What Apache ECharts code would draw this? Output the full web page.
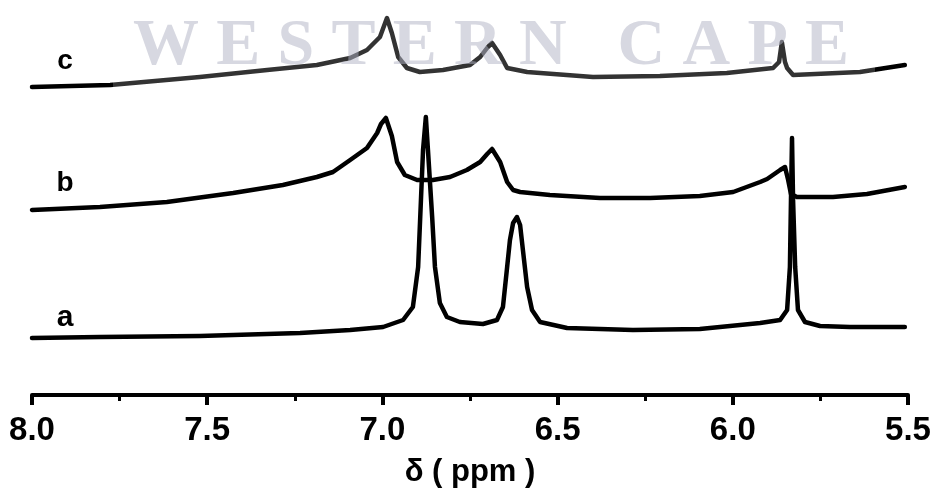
<!DOCTYPE html>
<html>
<head>
<meta charset="utf-8">
<title>1H NMR spectra</title>
<script src="https://cdn.jsdelivr.net/npm/echarts@6/dist/echarts.min.js"></script>
<style>
  html, body { margin: 0; padding: 0; background: #fff; }
  #chart { width: 938px; height: 494px; }
</style>
</head>
<body>
<div id="chart"></div>
<script>
// Stacked 1H NMR traces, chemical shift (ppm) vs. plotted height (a.u.)
const spectrumA = [
  [8.000, 57], [7.806, 58], [7.521, 59], [7.235, 62], [7.092, 65], [6.998, 68],
  [6.941, 75], [6.913, 88], [6.898, 128], [6.890, 195], [6.884, 245], [6.876, 278],
  [6.870, 245], [6.858, 178], [6.850, 128], [6.836, 92], [6.816, 78], [6.779, 73],
  [6.713, 71], [6.673, 75], [6.656, 88], [6.644, 128], [6.636, 155], [6.627, 172],
  [6.616, 178], [6.607, 170], [6.599, 145], [6.587, 108], [6.573, 85], [6.550, 73],
  [6.473, 67], [6.285, 65], [6.094, 66], [5.922, 72], [5.865, 75], [5.845, 85],
  [5.837, 128], [5.834, 195], [5.831, 257], [5.828, 195], [5.822, 128], [5.814, 85],
  [5.794, 73], [5.751, 69], [5.666, 68], [5.509, 68]
];
const spectrumB = [
  [8.000, 185], [7.806, 188], [7.615, 193], [7.426, 202], [7.284, 210], [7.187, 218],
  [7.141, 223], [7.092, 235], [7.044, 247], [7.015, 262], [7.004, 271], [6.990, 277],
  [6.973, 259], [6.958, 233], [6.936, 220], [6.901, 215], [6.856, 215], [6.807, 218],
  [6.759, 225], [6.721, 233], [6.701, 241], [6.687, 246], [6.664, 233], [6.644, 213],
  [6.627, 205], [6.607, 203], [6.522, 200], [6.379, 197], [6.236, 197], [6.094, 199],
  [5.999, 203], [5.922, 213], [5.902, 216], [5.865, 225], [5.851, 228], [5.842, 215],
  [5.834, 201], [5.817, 198], [5.714, 198], [5.617, 201], [5.509, 208]
];
const spectrumC = [
  [8.000, 308], [7.777, 310], [7.521, 318], [7.329, 325], [7.187, 330], [7.092, 337],
  [7.044, 345], [7.007, 358], [6.987, 377], [6.973, 362], [6.955, 338], [6.930, 327],
  [6.893, 323], [6.827, 325], [6.750, 330], [6.721, 338], [6.699, 348], [6.687, 352],
  [6.664, 340], [6.644, 327], [6.587, 323], [6.399, 318], [6.208, 319], [6.017, 322],
  [5.885, 327], [5.868, 333], [5.860, 353], [5.851, 333], [5.845, 327], [5.828, 320],
  [5.637, 323], [5.509, 330]
];
const traceNames = ['a', 'b', 'c'];
const tickValues = [8.0, 7.5, 7.0, 6.5, 6.0, 5.5];
const axisTitle = 'δ ( ppm )';
const watermarkText = 'WESTERN CAPE';

const chart = echarts.init(document.getElementById('chart'), null, { renderer: 'canvas' });

// spread the watermark letters evenly across its band
const wmFont = 'bold 66px "Liberation Serif"';
const wmLeft = 133, wmRight = 849, wmBaseline = 66;
const measure = document.createElement('canvas').getContext('2d');
measure.font = wmFont;
const chars = watermarkText.split('');
const widths = chars.map(ch => measure.measureText(ch).width);
const total = widths.reduce((s, w) => s + w, 0);
const gap = (wmRight - wmLeft - total) / (chars.length - 1);
const wmLetters = [];
let cx = wmLeft;
chars.forEach((ch, i) => {
  wmLetters.push({
    type: 'text', x: cx, y: wmBaseline - 19, z: 101,
    style: { text: ch, font: wmFont, fill: 'rgba(175,178,195,0.5)', textVerticalAlign: 'middle' }
  });
  cx += widths[i] + gap;
});

const lineSeries = (name, data) => ({
  name, type: 'line', data,
  showSymbol: false, symbol: 'none', smooth: false,
  lineStyle: { color: '#000', width: 4.5, join: 'round', cap: 'round' },
  emphasis: { disabled: true }, silent: true
});

const labelFont = 'bold 28px "Liberation Sans", Arial, sans-serif';

chart.setOption({
  animation: false,
  backgroundColor: '#fff',
  grid: { left: 32, right: 30, top: 0, bottom: 99 },
  xAxis: {
    type: 'value', inverse: true, min: 5.5, max: 8.0, interval: 0.5,
    name: axisTitle, nameLocation: 'middle', nameGap: 62,
    nameTextStyle: { fontFamily: 'Liberation Sans, Arial, sans-serif', fontWeight: 'bold', fontSize: 31, color: '#000' },
    axisLine: { show: true, lineStyle: { color: '#000', width: 4 } },
    axisTick: { show: true, length: 10, lineStyle: { color: '#000', width: 4 } },
    minorTick: { show: true, splitNumber: 2, length: 6, lineStyle: { color: '#000', width: 3 } },
    splitLine: { show: false },
    minorSplitLine: { show: false },
    axisLabel: {
      margin: 19, color: '#000', fontSize: 33, fontWeight: 'bold',
      fontFamily: 'Liberation Sans, Arial, sans-serif',
      showMinLabel: true, showMaxLabel: true,
      formatter: v => {
        const t = tickValues.find(tv => Math.abs(tv - v) < 1e-6);
        return t === undefined ? '' : t.toFixed(1);
      }
    }
  },
  yAxis: { type: 'value', min: 0, max: 395, show: false, splitLine: { show: false } },
  series: [
    lineSeries(traceNames[0], spectrumA),
    lineSeries(traceNames[1], spectrumB),
    lineSeries(traceNames[2], spectrumC)
  ],
  graphic: [
    { type: 'text', x: 65, y: 318, z: 50, style: { text: traceNames[0], font: 'bold 30px "Liberation Sans", Arial, sans-serif', fill: '#000', textAlign: 'center', textVerticalAlign: 'middle' } },
    { type: 'text', x: 65, y: 183, z: 50, style: { text: traceNames[1], font: labelFont, fill: '#000', textAlign: 'center', textVerticalAlign: 'middle' } },
    { type: 'text', x: 65, y: 61, z: 50, style: { text: traceNames[2], font: labelFont, fill: '#000', textAlign: 'center', textVerticalAlign: 'middle' } },
    { type: 'rect', z: 100, shape: { x: 113, y: 0, width: 762, height: 105 }, style: { fill: 'rgba(255,255,255,0.2)' } }
  ].concat(wmLetters)
});
</script>
</body>
</html>
